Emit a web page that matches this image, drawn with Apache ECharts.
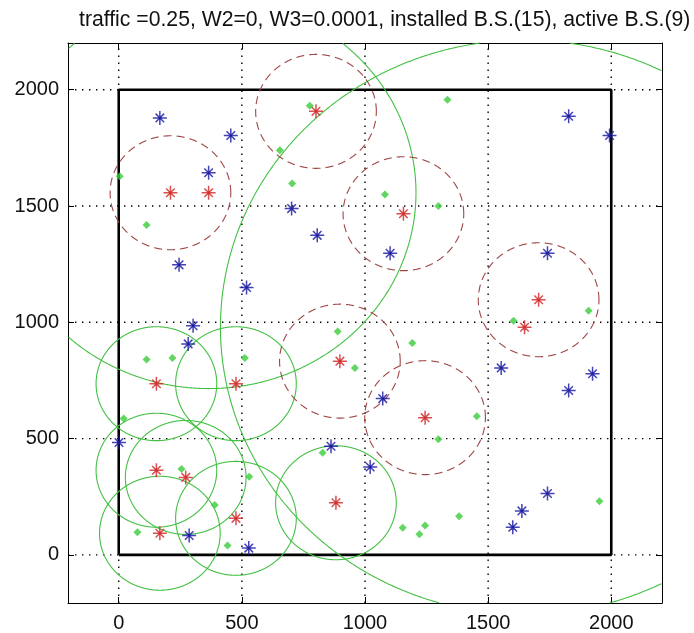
<!DOCTYPE html>
<html><head><meta charset="utf-8">
<script src="https://cdn.jsdelivr.net/npm/echarts@6/dist/echarts.min.js"></script>
<style>html,body{margin:0;padding:0;background:#fff}#c{width:694px;height:633px}</style>
</head><body><div id="c"></div>
<script>
const titleText = 'traffic =0.25, W2=0, W3=0.0001, installed B.S.(15), active B.S.(9)';
const xTicks = [0, 500, 1000, 1500, 2000];
const yTicks = [0, 500, 1000, 1500, 2000];
const xRange = [-206, 2206];
const yRange = [-207, 2201];
const areaSquare = [[0, 0], [2000, 0], [2000, 2000], [0, 2000], [0, 0]];
// active base stations (green solid coverage circles)
const activeBS = [[365, 1557], [1648, 979], [153, 736], [476, 736], [153, 364], [272, 333], [476, 157], [882, 224], [167, 93]];
const activeRadius = [842, 1235, 245, 245, 245, 245, 245, 245, 245];
// installed but inactive base stations (red dashed circles)
const inactiveBS = [[210, 1557], [801, 1907], [1156, 1467], [1705, 1097], [898, 833], [1244, 590]];
const inactiveRadius = [245, 245, 245, 245, 245, 245];
// blue star users
const blueUsers = [[167, 1879], [455, 1803], [365, 1643], [702, 1489], [806, 1374], [245, 1247], [519, 1150], [302, 985], [282, 907],
  [1827, 1886], [1993, 1803], [1102, 1297], [1741, 1297], [1553, 804], [1924, 779], [1827, 707], [1072, 672], [862, 467],
  [1021, 378], [1741, 264], [1637, 189], [1600, 119], [1, 483], [286, 83], [528, 29]];
// green diamond users
const greenUsers = [[776, 1931], [654, 1740], [704, 1597], [4, 1628], [113, 1418], [1335, 1957], [1081, 1550], [1298, 1500],
  [1908, 1050], [1603, 1007], [889, 960], [113, 840], [218, 847], [512, 846], [959, 804], [1192, 911], [20, 586], [828, 439],
  [255, 369], [530, 336], [390, 214], [76, 97], [442, 40], [1454, 596], [1298, 497], [1952, 231], [1382, 166], [1153, 117],
  [1244, 126], [1221, 89]];

const FONT = 'Liberation Sans';
const starPath = 'path://M5,-0.4L5,10.4M-0.4,5L10.4,5M1.7,1.7L8.3,8.3M1.7,8.3L8.3,1.7M4.1,4.1L5.9,4.1L5.9,5.9L4.1,5.9Z';

function inside(x, y) {
  return x >= xRange[0] && x <= xRange[1] && y >= yRange[0] && y <= yRange[1];
}
function circleSeries(centers, radii, color, dash, z) {
  return {
    type: 'custom', coordinateSystem: 'cartesian2d', silent: true, z: z,
    data: centers.map((c, i) => [c[0], c[1], radii[i]]),
    renderItem: function (params, api) {
      const cx = api.value(0), cy = api.value(1), r = api.value(2);
      const N = 1440;
      const runs = [];
      let cur = null;
      for (let k = 0; k <= N; k++) {
        const a = k / N * 2 * Math.PI;
        const x = cx + r * Math.cos(a), y = cy + r * Math.sin(a);
        if (inside(x, y)) {
          if (!cur) { cur = []; runs.push(cur); }
          cur.push(api.coord([x, y]));
        } else cur = null;
      }
      return {
        type: 'group',
        children: runs.filter(p => p.length > 1).map(p => ({
          type: 'polyline', shape: { points: p },
          style: { stroke: color, lineWidth: 1.1, lineDash: dash, fill: null }
        }))
      };
    }
  };
}

const gridV = {
  type: 'custom', coordinateSystem: 'cartesian2d', silent: true, z: 1,
  data: xTicks.map(v => [v, 0]),
  renderItem: function (params, api) {
    const p1 = api.coord([api.value(0), yRange[0]]), p2 = api.coord([api.value(0), yRange[1]]);
    return { type: 'line', shape: { x1: p1[0], y1: p1[1], x2: p2[0], y2: p2[1] },
      style: { stroke: '#000', lineWidth: 1.4, lineDash: [1.4, 5.6] } };
  }
};
const gridH = {
  type: 'custom', coordinateSystem: 'cartesian2d', silent: true, z: 1,
  data: yTicks.map(v => [0, v]),
  renderItem: function (params, api) {
    const p1 = api.coord([xRange[0], api.value(1)]), p2 = api.coord([xRange[1], api.value(1)]);
    return { type: 'line', shape: { x1: p1[0], y1: p1[1], x2: p2[0], y2: p2[1] },
      style: { stroke: '#000', lineWidth: 1.4, lineDash: [1.4, 5.6] } };
  }
};

const axisCommon = {
  type: 'value',
  axisLine: { show: true, onZero: false, lineStyle: { color: '#000', width: 1 } },
  splitLine: { show: false }
};
const plain = v => String(v);

const option = {
  animation: false,
  backgroundColor: '#fff',
  title: {
    text: titleText, left: 74, top: 5,
    textStyle: { fontFamily: FONT, fontSize: 21.2, fontWeight: 'normal', color: '#111' }
  },
  grid: { left: 68, top: 43, width: 594, height: 562, containLabel: false },
  xAxis: [
    Object.assign({}, axisCommon, {
      min: xRange[0], max: xRange[1], position: 'bottom',
      axisTick: { show: true, inside: true, length: 6, customValues: xTicks, lineStyle: { color: '#000' } },
      axisLabel: { customValues: xTicks, formatter: plain, fontFamily: FONT, fontSize: 20, color: '#111', margin: 10 }
    }),
    Object.assign({}, axisCommon, {
      min: xRange[0], max: xRange[1], position: 'top',
      axisTick: { show: true, inside: true, length: 6, customValues: xTicks, lineStyle: { color: '#000' } },
      axisLabel: { show: false }
    })
  ],
  yAxis: [
    Object.assign({}, axisCommon, {
      min: yRange[0], max: yRange[1], position: 'left',
      axisTick: { show: true, inside: true, length: 6, customValues: yTicks, lineStyle: { color: '#000' } },
      axisLabel: { customValues: yTicks, formatter: plain, fontFamily: FONT, fontSize: 20, color: '#111', margin: 9 }
    }),
    Object.assign({}, axisCommon, {
      min: yRange[0], max: yRange[1], position: 'right',
      axisTick: { show: true, inside: true, length: 6, customValues: yTicks, lineStyle: { color: '#000' } },
      axisLabel: { show: false }
    })
  ],
  series: [
    gridV, gridH,
    {
      type: 'line', data: areaSquare, showSymbol: false, symbol: 'none', silent: true, z: 2,
      lineStyle: { color: '#000', width: 2.6 }
    },
    circleSeries(activeBS, activeRadius, '#44c044', null, 3),
    circleSeries(inactiveBS, inactiveRadius, '#a04646', [8, 5], 3),
    {
      type: 'scatter', data: greenUsers, symbol: 'diamond', symbolSize: 8, silent: true, z: 4,
      itemStyle: { color: '#3acc3a' }
    },
    {
      type: 'scatter', data: blueUsers, symbol: starPath, symbolSize: 14, silent: true, z: 5,
      itemStyle: { color: '#1414a0', borderColor: '#1414a0', borderWidth: 1.5 }
    },
    {
      type: 'scatter', data: activeBS.concat(inactiveBS), symbol: starPath, symbolSize: 14, silent: true, z: 5,
      itemStyle: { color: '#d02424', borderColor: '#d02424', borderWidth: 1.5 }
    }
  ]
};
const chart = echarts.init(document.getElementById('c'), null, { renderer: 'canvas' });
chart.setOption(option);
</script>
</body></html>
